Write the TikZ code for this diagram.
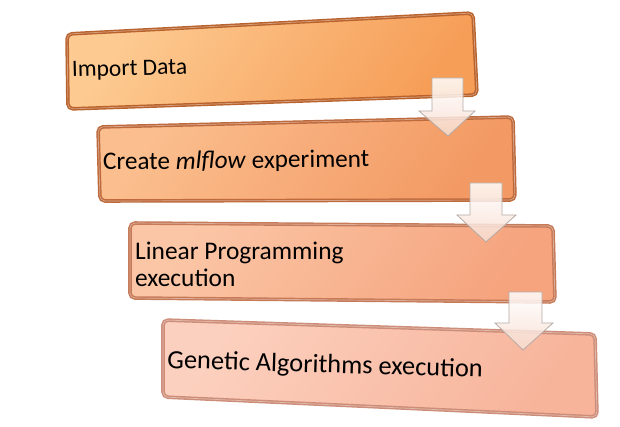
\documentclass[tikz,border=0pt]{standalone}
\usepackage{fontspec}
\setmainfont{Carlito}
\definecolor{bAl}{HTML}{FDCB92}\definecolor{bAd}{HTML}{F69E58}\definecolor{bAr}{HTML}{B9622B}
\definecolor{bBl}{HTML}{FBBE8E}\definecolor{bBd}{HTML}{F39A64}\definecolor{bBr}{HTML}{BE6A3C}
\definecolor{bCl}{HTML}{FBC6A6}\definecolor{bCd}{HTML}{F5A47E}\definecolor{bCr}{HTML}{C67A58}
\definecolor{bDl}{HTML}{FCD0BE}\definecolor{bDd}{HTML}{F7B49B}\definecolor{bDr}{HTML}{CD8D78}
\definecolor{arline}{HTML}{B5ABA6}
\definecolor{arlow}{HTML}{F7DCCF}
\begin{document}
\begin{tikzpicture}[x=1pt,y=-1pt,
  boxfill/.style n args={2}{rounded corners=5pt, top color=#1, bottom color=#2, shading angle=55},
  boxrim/.style={draw=#1, line width=3.6pt, rounded corners=5pt},
  boxhi/.style={draw=white, draw opacity=0.4, line width=0.7pt, rounded corners=5pt},
  blockarrow/.style={draw=arline, line width=0.8pt, line join=miter},
  arrowshade/.style={top color=white, bottom color=arlow, fill opacity=0.85},
  label/.style={inner sep=0pt, anchor=base west, align=left, text=black}]
\useasboundingbox (0,0) rectangle (620,427);

% box 1
\path[boxfill={bAl}{bAd}] (67,34) -- (473,13) -- (477,95) -- (68,109) -- cycle;
\draw[boxrim=bAr] (67,34) -- (473,13) -- (477,95) -- (68,109) -- cycle;
\draw[boxhi] (67,34) -- (473,13) -- (477,95) -- (68,109) -- cycle;
% box 2
\path[boxfill={bBl}{bBd}] (98,127) -- (513,117) -- (515,200) -- (100,201) -- cycle;
\draw[boxrim=bBr] (98,127) -- (513,117) -- (515,200) -- (100,201) -- cycle;
\draw[boxhi] (98,127) -- (513,117) -- (515,200) -- (100,201) -- cycle;
% box 3
\path[boxfill={bCl}{bCd}] (130,223) -- (553,226) -- (555,302) -- (130,298) -- cycle;
\draw[boxrim=bCr] (130,223) -- (553,226) -- (555,302) -- (130,298) -- cycle;
\draw[boxhi] (130,223) -- (553,226) -- (555,302) -- (130,298) -- cycle;
% box 4
\path[boxfill={bDl}{bDd}] (163,320) -- (595,334) -- (597,417) -- (163,397) -- cycle;
\draw[boxrim=bDr] (163,320) -- (595,334) -- (597,417) -- (163,397) -- cycle;
\draw[boxhi] (163,320) -- (595,334) -- (597,417) -- (163,397) -- cycle;

% texts
\node[label, font=\fontsize{23.5}{26.5}\selectfont, rotate=1.5] (t1) at (72,77) {Import Data};
\node[label, font=\fontsize{25.2}{28}\selectfont, rotate=0.7] (t2) at (103,170) {Create \textit{mlflow} experiment};
\node[label, font=\fontsize{25.4}{27}\selectfont] (t3) at (135,286) {Linear Programming\\execution};
\node[label, font=\fontsize{26.4}{29}\selectfont, rotate=-1.7] (t4) at (167,368) {Genetic Algorithms execution};

% arrows
\path[arrowshade] (432,78) -- (463,78) -- (463,111) -- (475,111) -- (448,136) -- (419,111) -- (432,111) -- cycle;
\draw[blockarrow] (432,78) -- (463,78) -- (463,111) -- (475,111) -- (448,136) -- (419,111) -- (432,111) -- cycle;
\path[arrowshade] (470,183) -- (502,183) -- (502,215) -- (516,215) -- (486,242) -- (457,215) -- (470,215) -- cycle;
\draw[blockarrow] (470,183) -- (502,183) -- (502,215) -- (516,215) -- (486,242) -- (457,215) -- (470,215) -- cycle;
\path[arrowshade] (509,292) -- (542,292) -- (542,323) -- (553,323) -- (523,350) -- (495,323) -- (509,323) -- cycle;
\draw[blockarrow] (509,292) -- (542,292) -- (542,323) -- (553,323) -- (523,350) -- (495,323) -- (509,323) -- cycle;
\end{tikzpicture}
\end{document}
